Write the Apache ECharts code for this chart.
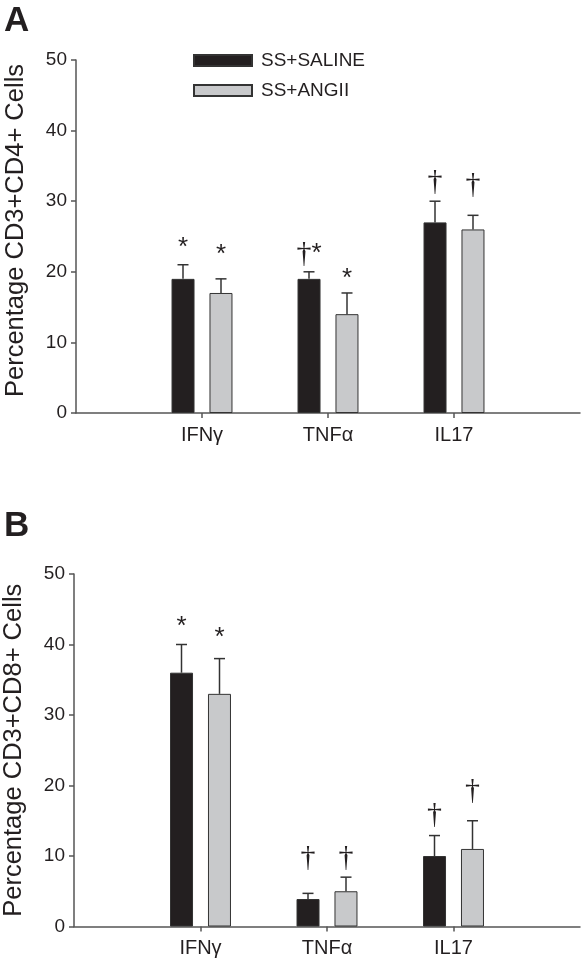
<!DOCTYPE html>
<html>
<head>
<meta charset="utf-8">
<script src="https://cdn.jsdelivr.net/npm/echarts@6/dist/echarts.min.js"></script>
<style>
html,body{margin:0;padding:0;background:#fff;}
#chart{width:582px;height:966px;}
</style>
</head>
<body>
<div id="chart"></div>
<script>
// ---- data ----
const categories = ['', 'IFNγ', 'TNFα', 'IL17', ''];
const seriesNames = ['SS+SALINE', 'SS+ANGII'];
const yTicks = [0, 10, 20, 30, 40, 50];

// Panel A: Percentage CD3+CD4+ Cells
const aSaline      = [null, 19, 19, 27, null];
const aSalineErr   = [null, 21, 20, 30, null];
const aAngii       = [null, 17, 14, 26, null];
const aAngiiErr    = [null, 19, 17, 28, null];
const aSalineMark  = [null, '*', '†*', '†', null];
const aAngiiMark   = [null, '*', '*', '†', null];
const aSalineMarkY = [null, 24.3, 23.4, 32.8, null];
const aAngiiMarkY  = [null, 23.2, 19.8, 32.4, null];

// Panel B: Percentage CD3+CD8+ Cells
const bSaline      = [null, 36, 3.9, 10, null];
const bSalineErr   = [null, 40, 4.7, 12.9, null];
const bAngii       = [null, 33, 5, 11, null];
const bAngiiErr    = [null, 38, 7, 15, null];
const bSalineMark  = [null, '*', '†', '†', null];
const bAngiiMark   = [null, '*', '†', '†', null];
const bSalineMarkY = [null, 43.4, 9.9, 15.9, null];
const bAngiiMarkY  = [null, 41.8, 9.9, 19.3, null];

// ---- style ----
const FONT = 'Liberation Sans, Arial, sans-serif';
const TXT = '#231f20';
const AXIS = '#555555';
const BLACK = '#231f20';
const GRAY = '#c8c9cb';
const BAR_W = 23;
const HALF_SHIFT = 19; // half of bar + gap
const ASTER_CORR = 6;   // px, push asterisk glyph centre to anchor
const DAG_CORR = 1;     // px, dagger

function richText(s) {
  return s.split('').map(ch => ch === '*' ? '{s|*}' : '{d|†}').join('');
}

function errSeries(name, idx, vals, errs, marks, markYs, dx) {
  const items = [];
  const labels = [];
  vals.forEach((v, i) => {
    if (v == null) return;
    items.push([i, v, errs[i], markYs[i]]);
    labels.push(marks[i]);
  });
  return {
    type: 'custom', name: name, xAxisIndex: idx, yAxisIndex: idx, silent: true, z: 5,
    data: items,
    renderItem(params, api) {
      const i = api.value(0);
      const top = api.coord([i, api.value(1)]);
      const et = api.coord([i, api.value(2)]);
      const mk = api.coord([i, api.value(3)]);
      const x = top[0] + dx;
      const m = labels[params.dataIndex];
      const corr = m.indexOf('*') >= 0 ? ASTER_CORR : DAG_CORR;
      const ls = { stroke: '#333', lineWidth: 1.5 };
      return {
        type: 'group',
        children: [
          { type: 'line', shape: { x1: x, y1: top[1], x2: x, y2: et[1] }, style: ls },
          { type: 'line', shape: { x1: x - 5.5, y1: et[1], x2: x + 5.5, y2: et[1] }, style: ls },
          { type: 'text', x: x, y: mk[1] + corr,
            style: {
              text: richText(m), align: 'center', verticalAlign: 'middle', fill: TXT,
              rich: {
                s: { fontFamily: FONT, fontSize: 26, fill: TXT },
                d: { fontFamily: 'Liberation Serif, serif', fontSize: 30, fill: TXT }
              }
            } }
        ]
      };
    }
  };
}

function barSeries(name, idx, vals, color) {
  return {
    type: 'bar', name: name, xAxisIndex: idx, yAxisIndex: idx,
    data: vals, barWidth: BAR_W, barGap: '65%',
    itemStyle: { color: color, borderColor: '#333', borderWidth: 1 }
  };
}

function xAxis(idx) {
  return {
    type: 'category', gridIndex: idx, data: categories, boundaryGap: false,
    axisLine: { lineStyle: { color: AXIS, width: 1.5 } },
    axisTick: { length: 5, interval: (i) => i > 0 && i < 4, lineStyle: { color: AXIS, width: 1.5 } },
    axisLabel: { interval: (i) => i > 0 && i < 4, color: TXT, fontFamily: FONT, fontSize: 20, margin: 12 },
    splitLine: { show: false }
  };
}

function yAxis(idx, name, shiftUp) {
  return {
    type: 'value', gridIndex: idx, min: yTicks[0], max: yTicks[yTicks.length - 1], interval: 10,
    name: name, nameLocation: 'middle', nameGap: 47,
    nameTextStyle: { color: TXT, fontFamily: FONT, fontSize: 25.5, padding: [0, 0, 0, shiftUp * 2] },
    axisLine: { show: true, lineStyle: { color: AXIS, width: 1.5 } },
    axisTick: { show: true, length: 5, lineStyle: { color: AXIS, width: 1.5 } },
    axisLabel: { color: TXT, fontFamily: FONT, fontSize: 19, margin: 9 },
    splitLine: { show: false }
  };
}

const chart = echarts.init(document.getElementById('chart'), null, { renderer: 'canvas' });
chart.setOption({
  backgroundColor: '#fff',
  animation: false,
  title: [
    { text: 'A', left: 4, top: 4, padding: 0, textStyle: { fontFamily: FONT, fontSize: 35, fontWeight: 'bold', color: TXT } },
    { text: 'B', left: 4, top: 509, padding: 0, textStyle: { fontFamily: FONT, fontSize: 35, fontWeight: 'bold', color: TXT } }
  ],
  legend: {
    data: seriesNames, orient: 'vertical', left: 193, top: 51, padding: 0,
    itemWidth: 58, itemHeight: 11, itemGap: 11, icon: 'rect',
    textStyle: { color: TXT, fontFamily: FONT, fontSize: 19, padding: [0, 0, 0, 4] }
  },
  grid: [
    { left: 76, top: 60, width: 504, height: 353, containLabel: false, outerBoundsMode: 'none' },
    { left: 74, top: 574, width: 506, height: 352.5, containLabel: false, outerBoundsMode: 'none' }
  ],
  xAxis: [xAxis(0), xAxis(1)],
  yAxis: [yAxis(0, 'Percentage CD3+CD4+ Cells', 6), yAxis(1, 'Percentage CD3+CD8+ Cells', 0)],
  series: [
    barSeries(seriesNames[0], 0, aSaline, BLACK),
    barSeries(seriesNames[1], 0, aAngii, GRAY),
    errSeries(seriesNames[0], 0, aSaline, aSalineErr, aSalineMark, aSalineMarkY, -HALF_SHIFT),
    errSeries(seriesNames[1], 0, aAngii, aAngiiErr, aAngiiMark, aAngiiMarkY, HALF_SHIFT),
    barSeries(seriesNames[0], 1, bSaline, BLACK),
    barSeries(seriesNames[1], 1, bAngii, GRAY),
    errSeries(seriesNames[0], 1, bSaline, bSalineErr, bSalineMark, bSalineMarkY, -HALF_SHIFT),
    errSeries(seriesNames[1], 1, bAngii, bAngiiErr, bAngiiMark, bAngiiMarkY, HALF_SHIFT)
  ]
});
</script>
</body>
</html>
